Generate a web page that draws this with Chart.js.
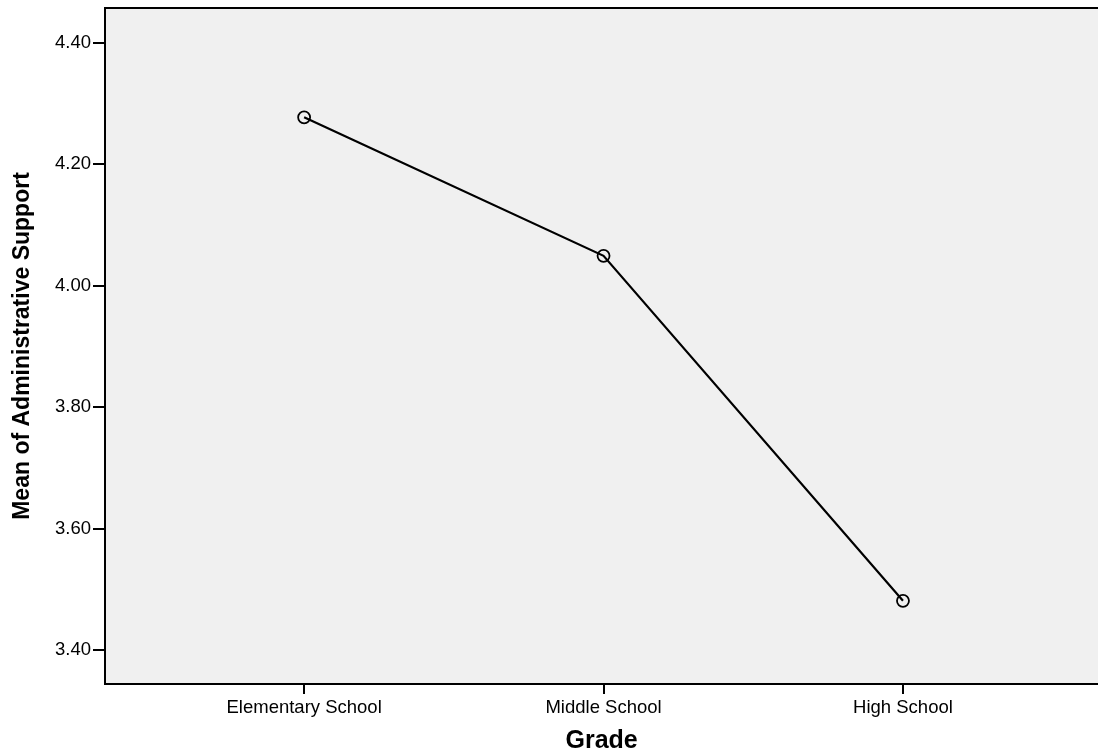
<!DOCTYPE html>
<html>
<head>
<meta charset="utf-8">
<title>Mean of Administrative Support by Grade</title>
<script src="https://cdn.jsdelivr.net/npm/chart.js"></script>
<style>
  html, body { margin: 0; padding: 0; background: #fff; overflow: hidden; }
  /* a bit wider than the window so the open right side of the plot runs off the edge */
  #wrap { width: 1106px; height: 754px; position: relative; }
  canvas { display: block; }
</style>
</head>
<body>
<div id="wrap"><canvas id="chart"></canvas></div>
<script>
const grades = ['Elementary School', 'Middle School', 'High School'];
const meanSupport = [4.277, 4.049, 3.481];
const yTicks = [3.40, 3.60, 3.80, 4.00, 4.20, 4.40];

// plot background + top frame line like the SPSS output
const plotFrame = {
  id: 'plotFrame',
  beforeDraw(chart) {
    const { ctx, chartArea: a } = chart;
    ctx.save();
    ctx.fillStyle = '#f0f0f0';
    ctx.fillRect(a.left, a.top, a.right - a.left, a.bottom - a.top);
    ctx.strokeStyle = '#000';
    ctx.lineWidth = 2;
    ctx.beginPath();
    ctx.moveTo(a.left - 1, a.top);
    ctx.lineTo(a.right, a.top);
    ctx.stroke();
    ctx.restore();
  }
};

new Chart(document.getElementById('chart'), {
  type: 'line',
  data: {
    datasets: [{
      data: meanSupport.map((v, i) => ({ x: i + 1, y: v })),
      borderColor: '#000',
      borderWidth: 2.2,
      pointRadius: 6,
      pointBorderWidth: 1.8,
      pointBorderColor: '#000',
      pointBackgroundColor: 'rgba(0,0,0,0)',
      tension: 0
    }]
  },
  options: {
    responsive: true,
    maintainAspectRatio: false,
    animation: false,
    layout: { padding: { top: 8, right: 0, left: 0, bottom: 0 } },
    plugins: { legend: { display: false }, tooltip: { enabled: false } },
    scales: {
      x: {
        type: 'linear',
        min: 0.335,
        max: 3.652,
        afterBuildTicks: s => { s.ticks = grades.map((g, i) => ({ value: i + 1 })); },
        afterFit: s => { s.height = 70; s.paddingLeft = 0; s.paddingRight = 0; },
        ticks: {
          callback: v => grades[v - 1] || '',
          color: '#000',
          font: { family: 'Liberation Sans', size: 18.5 },
          padding: 3,
          maxRotation: 0
        },
        grid: { drawOnChartArea: false, tickLength: 10, color: '#000', lineWidth: 2 },
        border: { color: '#000', width: 2 },
        title: {
          display: true,
          text: 'Grade',
          color: '#000',
          font: { family: 'Liberation Sans', size: 25, weight: 'bold' },
          padding: { top: 4, bottom: -2 }
        }
      },
      y: {
        min: 3.344,
        max: 4.457,
        afterBuildTicks: s => { s.ticks = yTicks.map(v => ({ value: v })); },
        afterFit: s => { s.width = 105; s.paddingTop = 0; s.paddingBottom = 0; },
        ticks: {
          callback: v => v.toFixed(2),
          color: '#000',
          font: { family: 'Liberation Sans', size: 18.5 },
          padding: 2
        },
        grid: { drawOnChartArea: false, tickLength: 12, color: '#000', lineWidth: 2 },
        border: { color: '#000', width: 2 },
        title: {
          display: true,
          text: 'Mean of Administrative Support',
          color: '#000',
          font: { family: 'Liberation Sans', size: 23, weight: 'bold' },
          padding: { top: 9 }
        }
      }
    }
  },
  plugins: [plotFrame]
});
</script>
</body>
</html>
